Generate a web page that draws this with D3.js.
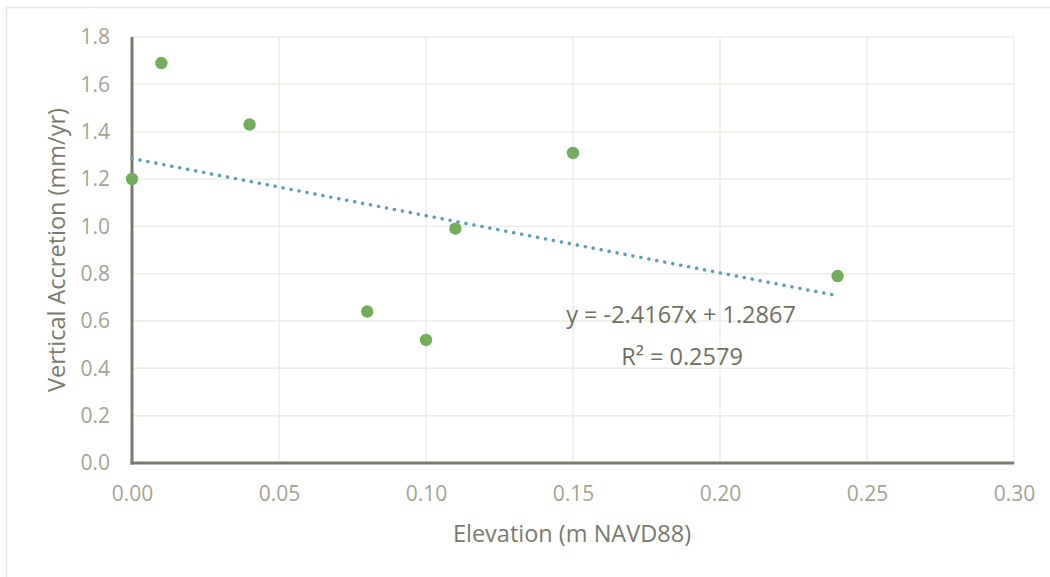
<!DOCTYPE html>
<html>
<head>
<meta charset="utf-8">
<script src="https://cdn.jsdelivr.net/npm/d3@7"></script>
<style>
  html, body { margin: 0; padding: 0; background: #fff; }
  svg { display: block; font-family: "Open Sans", sans-serif; }
</style>
</head>
<body>
<svg id="chart" width="1050" height="577"></svg>
<script>
// --- data ---
const elevation = [0.00, 0.01, 0.04, 0.08, 0.10, 0.11, 0.15, 0.24]
const accretion = [1.20, 1.69, 1.43, 0.64, 0.52, 0.99, 1.31, 0.79]
const xTicks = [0, 0.05, 0.10, 0.15, 0.20, 0.25, 0.30]
const yTicks = [0, 0.2, 0.4, 0.6, 0.8, 1.0, 1.2, 1.4, 1.6, 1.8]
const slope = -2.4167
const intercept = 1.2867
const eqLabel = 'y = -2.4167x + 1.2867'
const r2Label = 'R² = 0.2579'
const xTitle = 'Elevation (m NAVD88)'
const yTitle = 'Vertical Accretion (mm/yr)'

const svg = d3.select('#chart')
const margin = {top: 37, right: 36, bottom: 114, left: 132}
const width = +svg.attr('width')
const height = +svg.attr('height')
const innerW = width - margin.left - margin.right
const innerH = height - margin.top - margin.bottom

// outer chart frame (right/bottom sit outside the view)
svg.append('rect')
   .attr('x', 6.5).attr('y', 7.5)
   .attr('width', 1060).attr('height', 600)
   .attr('fill', 'none').attr('stroke', '#e6e6e0').attr('stroke-width', 1.5)

const g = svg.append('g').attr('transform', `translate(${margin.left},${margin.top})`)

const x = d3.scaleLinear().domain([0, 0.30]).range([0, innerW])
const y = d3.scaleLinear().domain([0, 1.8]).range([innerH, 0])

// gridlines
g.append('g').selectAll('line').data(yTicks.slice(1)).join('line')
  .attr('x1', 0).attr('x2', innerW)
  .attr('y1', d => y(d)).attr('y2', d => y(d))
  .attr('stroke', '#ebebe6').attr('stroke-width', 1.5)
g.append('g').selectAll('line').data(xTicks.slice(1)).join('line')
  .attr('x1', d => x(d)).attr('x2', d => x(d))
  .attr('y1', 0).attr('y2', innerH)
  .attr('stroke', '#ebebe6').attr('stroke-width', 1.5)

// axes
const xAxis = g.append('g').attr('transform', `translate(0,${innerH})`)
  .call(d3.axisBottom(x).tickValues(xTicks).tickFormat(d3.format('.2f')).tickSize(0).tickPadding(23))
const yAxis = g.append('g')
  .call(d3.axisLeft(y).tickValues(yTicks).tickFormat(d3.format('.1f')).tickSize(0).tickPadding(22))
;[xAxis, yAxis].forEach(a => {
  a.select('.domain').attr('stroke', '#7a7a6c').attr('stroke-width', 3)
  a.selectAll('text').attr('fill', '#a3a395').style('font-size', '21px')
    .style('font-family', '"Open Sans", sans-serif')
})
xAxis.select('.domain').attr('d', `M-1.5,0H${innerW}`)
yAxis.select('.domain').attr('d', `M0,0V${innerH + 1.5}`)

// trendline
const xr = d3.extent(elevation)
g.append('line')
  .attr('x1', x(xr[0])).attr('y1', y(slope * xr[0] + intercept))
  .attr('x2', x(xr[1])).attr('y2', y(slope * xr[1] + intercept))
  .attr('stroke', '#5e9db3').attr('stroke-width', 3.5)
  .attr('stroke-linecap', 'round').attr('stroke-dasharray', '0.1 8')

// points
g.append('g').selectAll('circle').data(elevation).join('circle')
  .attr('cx', d => x(d))
  .attr('cy', (d, i) => y(accretion[i]))
  .attr('r', 6.2)
  .attr('fill', '#72ad5e')

// equation labels
g.append('text').attr('x', 549).attr('y', 286)
  .attr('text-anchor', 'middle').attr('fill', '#6f6f60').style('font-size', '23.5px')
  .text(eqLabel)
g.append('text').attr('x', 550).attr('y', 328)
  .attr('text-anchor', 'middle').attr('fill', '#6f6f60').style('font-size', '23.5px')
  .text(r2Label)

// axis titles
svg.append('text').attr('x', margin.left + innerW / 2 - 1).attr('y', 542)
  .attr('text-anchor', 'middle').attr('fill', '#7a7a6c').style('font-size', '23.5px')
  .text(xTitle)
svg.append('text')
  .attr('transform', `translate(65,${margin.top + innerH / 2}) rotate(-90)`)
  .attr('text-anchor', 'middle').attr('fill', '#7a7a6c').style('font-size', '23.5px')
  .text(yTitle)
</script>
</body>
</html>
